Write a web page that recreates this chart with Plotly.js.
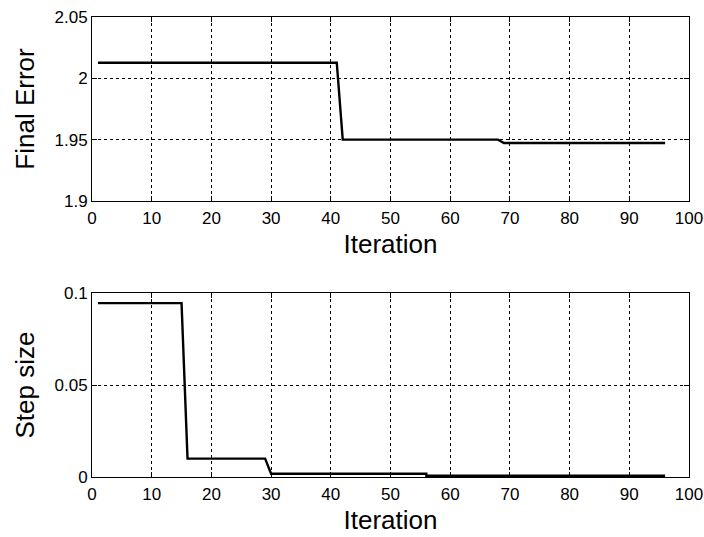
<!DOCTYPE html>
<html>
<head>
<meta charset="utf-8">
<script src="https://cdn.plot.ly/plotly-3.0.1.min.js"></script>
<style>html,body{margin:0;padding:0;background:#fff;}#chart{width:704px;height:537px;}</style>
</head>
<body>
<div id="chart"></div>
<script>
// Top panel: Final Error per iteration
var errIter = [1, 41, 42, 68, 69, 96];
var errVals = [2.0127, 2.0127, 1.95, 1.95, 1.9473, 1.9473];
// Bottom panel: Step size per iteration
var stepIter = [1, 15, 16, 29, 30, 56, 56.01, 96];
var stepVals = [0.0945, 0.0945, 0.01, 0.01, 0.0018, 0.0018, 0.0007, 0.0007];
// Tick labels
var xTickVals = [0, 10, 20, 30, 40, 50, 60, 70, 80, 90, 100];
var errTickVals = [1.9, 1.95, 2, 2.05];
var errTickText = ['1.9', '1.95', '2', '2.05'];
var stepTickVals = [0, 0.05, 0.1];
var stepTickText = ['0', '0.05', '0.1'];

var fontFam = 'Liberation Sans, Arial, sans-serif';
var tickFont = {family: fontFam, size: 17, color: '#000'};
var titleFont = {family: fontFam, size: 26, color: '#000'};

function xAxis(anchor) {
  return {
    anchor: anchor, range: [0, 100], tickvals: xTickVals,
    showline: true, linecolor: '#000', linewidth: 1, mirror: 'ticks',
    ticks: 'inside', ticklen: 5, tickcolor: '#000', ticklabelstandoff: 2,
    showgrid: true, gridcolor: '#000', gridwidth: 1, griddash: '3px,3px',
    zeroline: false, tickfont: tickFont,
    title: {text: 'Iteration', font: titleFont, standoff: 7}
  };
}
function yAxis(anchor, dom, range, tv, tt, title) {
  return {
    anchor: anchor, domain: dom, range: range, tickvals: tv, ticktext: tt,
    showline: true, linecolor: '#000', linewidth: 1, mirror: 'ticks',
    ticks: 'inside', ticklen: 5, tickcolor: '#000',
    showgrid: true, gridcolor: '#000', gridwidth: 1, griddash: '3px,3px',
    zeroline: false, tickfont: tickFont,
    title: {text: title, font: titleFont, standoff: 12}
  };
}

var data = [
  {x: errIter, y: errVals, xaxis: 'x', yaxis: 'y', mode: 'lines',
   line: {color: '#000', width: 2.4}, hoverinfo: 'skip'},
  {x: stepIter, y: stepVals, xaxis: 'x2', yaxis: 'y2', mode: 'lines',
   line: {color: '#000', width: 2.4}, hoverinfo: 'skip'}
];

var layout = {
  width: 704, height: 537,
  margin: {l: 92, r: 15, t: 17, b: 60},
  paper_bgcolor: '#fff', plot_bgcolor: '#fff',
  showlegend: false,
  xaxis: xAxis('y'),
  yaxis: yAxis('x', [0.6, 1], [1.9, 2.05], errTickVals, errTickText, 'Final Error'),
  xaxis2: xAxis('y2'),
  yaxis2: yAxis('x2', [0, 0.4], [0, 0.1], stepTickVals, stepTickText, 'Step size')
};

Plotly.newPlot('chart', data, layout, {staticPlot: true, displayModeBar: false});
</script>
</body>
</html>
